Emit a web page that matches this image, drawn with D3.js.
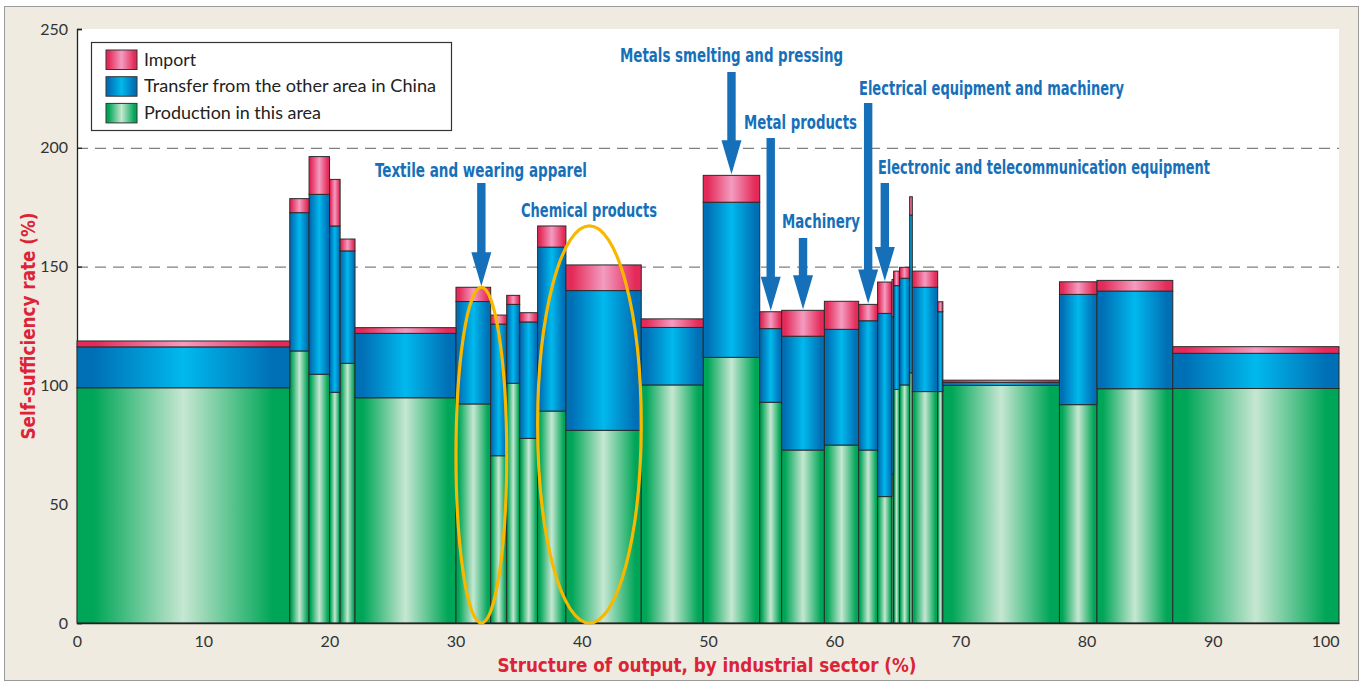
<!DOCTYPE html>
<html>
<head>
<meta charset="utf-8">
<script src="https://cdn.jsdelivr.net/npm/d3@7"></script>
<style>
  body { margin: 0; background: #ffffff; }
  svg { display: block; }
</style>
</head>
<body>
<svg id="chart" width="1364" height="684"></svg>
<script>
// ---- data -------------------------------------------------------------
// share of each industrial sector in total output (%), left to right
const sectorShare = [16.86, 1.53, 1.62, 0.84, 1.18, 8.00, 2.75, 1.27, 1.03, 1.42,
                     2.24, 5.97, 4.91, 4.48, 1.74, 3.38, 2.72, 1.50, 1.14, 0.13,
                     0.47, 0.80, 0.21, 2.01, 0.41, 9.24, 2.97, 6.01, 13.17];
// self-sufficiency components (%)
const production = [99.0, 114.5, 104.7, 97.1, 109.3, 94.8, 92.2, 70.4, 100.9, 77.7,
                    89.2, 81.1, 100.2, 111.8, 92.9, 72.8, 74.9, 72.8, 53.2, 62.7,
                    98.3, 100.2, 105.3, 97.4, 97.4, 100.0, 91.9, 98.6, 98.7];
const transfer   = [17.2, 58.2, 75.7, 70.0, 47.3, 27.1, 43.1, 55.4, 33.2, 49.0,
                    69.0, 58.8, 24.2, 65.3, 31.0, 47.9, 48.7, 54.4, 77.1, 66.2,
                    43.7, 44.9, 66.4, 43.9, 33.6, 1.3, 46.4, 41.1, 14.8];
const imports    = [2.5, 5.9, 15.9, 19.6, 5.0, 2.4, 6.0, 3.8, 3.8, 3.9,
                    8.9, 10.8, 3.6, 11.3, 7.1, 10.9, 11.8, 6.9, 13.2, 15.7,
                    6.1, 4.6, 7.7, 6.8, 4.2, 0.9, 5.3, 4.5, 2.8];

const seriesKeys   = ["production", "transfer", "imports"];
const legendLabels = ["Import", "Transfer from the other area in China", "Production in this area"];
const legendKeys   = ["imports", "transfer", "production"];

const xTicks = [0, 10, 20, 30, 40, 50, 60, 70, 80, 90, 100];
const yTicks = [0, 50, 100, 150, 200, 250];
const gridValues = [150, 200];

// called-out sectors (first and last sector index of each group)
const calloutText  = ["Metals smelting and pressing", "Electrical equipment and machinery",
                      "Metal products", "Electronic and telecommunication equipment",
                      "Machinery", "Textile and wearing apparel", "Chemical products"];
const calloutFirst = [13, 17, 14, 18, 15, 6, 10];
const calloutLast  = [13, 17, 14, 18, 15, 7, 11];
const calloutArrow = [true, true, true, true, true, true, false];
// groups circled on the chart
const ringFirst = [6, 10];
const ringLast  = [7, 11];

const xTitle = "Structure of output, by industrial sector (%)";
const yTitle = "Self-sufficiency rate (%)";

// ---- layout -------------------------------------------------------------
const W = 1364, H = 684;
const plot = { left: 77, right: 1339, top: 29, bottom: 623 };
const x = d3.scaleLinear().domain([0, 100]).range([plot.left, plot.right]);
const y = d3.scaleLinear().domain([0, 250]).range([plot.bottom, plot.top]);

const BLUE = "#1670b9";
const RED = "#dc2337";
const LABEL_FONT = "'DejaVu Sans Condensed', 'DejaVu Sans', sans-serif";
const TEXT_FONT = "Lato, 'Open Sans', sans-serif";

// label placement for each callout: left x, baseline, width, top of arrow shaft
const calloutLayout = [
  { tx: 620, ty: 62,  tw: 223, shaft: 72 },
  { tx: 859, ty: 95,  tw: 265, shaft: 103 },
  { tx: 744, ty: 129, tw: 113, shaft: 138 },
  { tx: 878, ty: 174, tw: 332, shaft: 183 },
  { tx: 782, ty: 228, tw: 78,  shaft: 238 },
  { tx: 375, ty: 177, tw: 212, shaft: 183 },
  { tx: 521, ty: 217, tw: 136, shaft: null }
];
// legend text widths
const legendTextWidth = [52, 292, 177];

// ---- build sectors ------------------------------------------------------
let acc = 0;
const sectors = sectorShare.map((w, i) => {
  const s = { x0: acc, x1: acc + w, production: production[i], transfer: transfer[i], imports: imports[i] };
  acc += w;
  return s;
});
const total = d => d.production + d.transfer + d.imports;

const svg = d3.select("#chart");

// ---- gradients ----------------------------------------------------------
const gradStops = {
  imports:    ["#e42a58", "#f39cc1"],
  transfer:   ["#0070b6", "#00b9ed"],
  production: ["#00a657", "#c6e7d2"]
};
const defs = svg.append("defs");
Object.entries(gradStops).forEach(([k, [edge, mid]]) => {
  const g = defs.append("linearGradient").attr("id", "g-" + k)
    .attr("x1", "0").attr("x2", "1").attr("y1", "0").attr("y2", "0");
  g.append("stop").attr("offset", "0%").attr("stop-color", edge);
  g.append("stop").attr("offset", "8%").attr("stop-color", edge);
  g.append("stop").attr("offset", "50%").attr("stop-color", mid);
  g.append("stop").attr("offset", "92%").attr("stop-color", edge);
  g.append("stop").attr("offset", "100%").attr("stop-color", edge);
});

// ---- frame & plot background -------------------------------------------
svg.append("rect").attr("x", 0).attr("y", 0).attr("width", W).attr("height", H).attr("fill", "#ffffff");
svg.append("rect").attr("x", 4.5).attr("y", 6.5).attr("width", 1354).attr("height", 674)
  .attr("fill", "#efebe1").attr("stroke", "#9a9a9a").attr("stroke-width", 1);
svg.append("rect").attr("x", plot.left).attr("y", plot.top)
  .attr("width", plot.right - plot.left).attr("height", plot.bottom - plot.top)
  .attr("fill", "#ffffff");

// ---- dashed reference lines --------------------------------------------
svg.append("g").selectAll("line").data(gridValues).join("line")
  .attr("x1", plot.left).attr("x2", plot.right)
  .attr("y1", d => y(d) + 0.5).attr("y2", d => y(d) + 0.5)
  .attr("stroke", "#808080").attr("stroke-width", 1.3).attr("stroke-dasharray", "11,7");

// ---- y axis -------------------------------------------------------------
const yAxis = svg.append("g").attr("transform", `translate(${plot.left},0)`)
  .call(d3.axisLeft(y).tickValues(yTicks).tickSize(-5).tickPadding(9).tickFormat(d3.format("d")));
yAxis.selectAll("line, path").attr("stroke", "#222").attr("stroke-width", 1.3);
yAxis.selectAll("text").attr("font-family", TEXT_FONT).attr("font-size", 16).attr("fill", "#333");

// ---- stacked variable-width bars ---------------------------------------
const stacked = d3.stack().keys(seriesKeys)(sectors);
const barG = svg.append("g");
stacked.forEach(layer => {
  barG.append("g").selectAll("rect").data(layer).join("rect")
    .attr("x", d => x(d.data.x0))
    .attr("width", d => x(d.data.x1) - x(d.data.x0))
    .attr("y", d => y(d[1]))
    .attr("height", d => y(d[0]) - y(d[1]))
    .attr("fill", `url(#g-${layer.key})`)
    .attr("stroke", "#2a2a2a").attr("stroke-width", 1);
});

// ---- x axis -------------------------------------------------------------
const xAxis = svg.append("g").attr("transform", `translate(0,${plot.bottom})`)
  .call(d3.axisBottom(x).tickValues(xTicks).tickSize(0).tickPadding(13).tickFormat(d3.format("d")));
xAxis.select("path").attr("stroke", "#222").attr("stroke-width", 1.5);
xAxis.selectAll("text").attr("font-family", TEXT_FONT).attr("font-size", 16).attr("fill", "#333");
xAxis.selectAll(".tick").filter(d => d === 100).select("text").attr("text-anchor", "end").attr("x", 0);

// ---- axis titles --------------------------------------------------------
svg.append("text").text(xTitle)
  .attr("x", 707).attr("y", 672).attr("text-anchor", "middle")
  .attr("font-family", LABEL_FONT).attr("font-weight", "bold").attr("font-size", 19)
  .attr("textLength", 419).attr("lengthAdjust", "spacingAndGlyphs")
  .attr("fill", RED);
svg.append("text").text(yTitle)
  .attr("transform", "translate(35,326) rotate(-90)").attr("text-anchor", "middle")
  .attr("font-family", LABEL_FONT).attr("font-weight", "bold").attr("font-size", 19)
  .attr("textLength", 227).attr("lengthAdjust", "spacingAndGlyphs")
  .attr("fill", RED);

// ---- circled groups -----------------------------------------------------
ringFirst.forEach((f, i) => {
  const l = ringLast[i];
  const x0 = sectors[f].x0, x1 = sectors[l].x1;
  const top = d3.max(sectors.slice(f, l + 1), total);
  svg.append("ellipse")
    .attr("cx", (x(x0) + x(x1)) / 2)
    .attr("cy", (y(0) + y(top)) / 2)
    .attr("rx", (x(x1) - x(x0)) / 2)
    .attr("ry", (y(0) - y(top)) / 2)
    .attr("fill", "none").attr("stroke", "#f9b800").attr("stroke-width", 3.2);
});

// ---- callouts -----------------------------------------------------------
const callG = svg.append("g");
calloutText.forEach((t, i) => {
  const L = calloutLayout[i];
  callG.append("text").text(t)
    .attr("x", L.tx).attr("y", L.ty)
    .attr("font-family", LABEL_FONT).attr("font-weight", "bold").attr("font-size", 19)
    .attr("textLength", L.tw).attr("lengthAdjust", "spacingAndGlyphs")
    .attr("fill", BLUE);
  if (!calloutArrow[i]) return;
  const f = calloutFirst[i], l = calloutLast[i];
  const cx = (x(sectors[f].x0) + x(sectors[l].x1)) / 2;
  const tip = y(d3.max(sectors.slice(f, l + 1), total)) - 1;
  const headLen = 34, headHalf = 10, shaftHalf = 4.2;
  const p = d3.path();
  p.moveTo(cx - shaftHalf, L.shaft);
  p.lineTo(cx + shaftHalf, L.shaft);
  p.lineTo(cx + shaftHalf, tip - headLen);
  p.lineTo(cx + headHalf, tip - headLen);
  p.lineTo(cx, tip);
  p.lineTo(cx - headHalf, tip - headLen);
  p.lineTo(cx - shaftHalf, tip - headLen);
  p.closePath();
  callG.append("path").attr("d", p.toString()).attr("fill", BLUE);
});

// ---- legend -------------------------------------------------------------
const lg = svg.append("g");
lg.append("rect").attr("x", 91.5).attr("y", 42.5).attr("width", 360).attr("height", 88)
  .attr("fill", "#ffffff").attr("stroke", "#333").attr("stroke-width", 1.2);
legendKeys.forEach((k, i) => {
  const yy = 50 + i * 26.7;
  lg.append("rect").attr("x", 106).attr("y", yy).attr("width", 31).attr("height", 19.5)
    .attr("fill", `url(#g-${k})`).attr("stroke", "#333").attr("stroke-width", 1);
  lg.append("text").text(legendLabels[i])
    .attr("x", 144).attr("y", yy + 15.5)
    .attr("font-family", TEXT_FONT).attr("font-size", 17).attr("fill", "#222")
    .attr("textLength", legendTextWidth[i]).attr("lengthAdjust", "spacingAndGlyphs");
});
</script>
</body>
</html>
